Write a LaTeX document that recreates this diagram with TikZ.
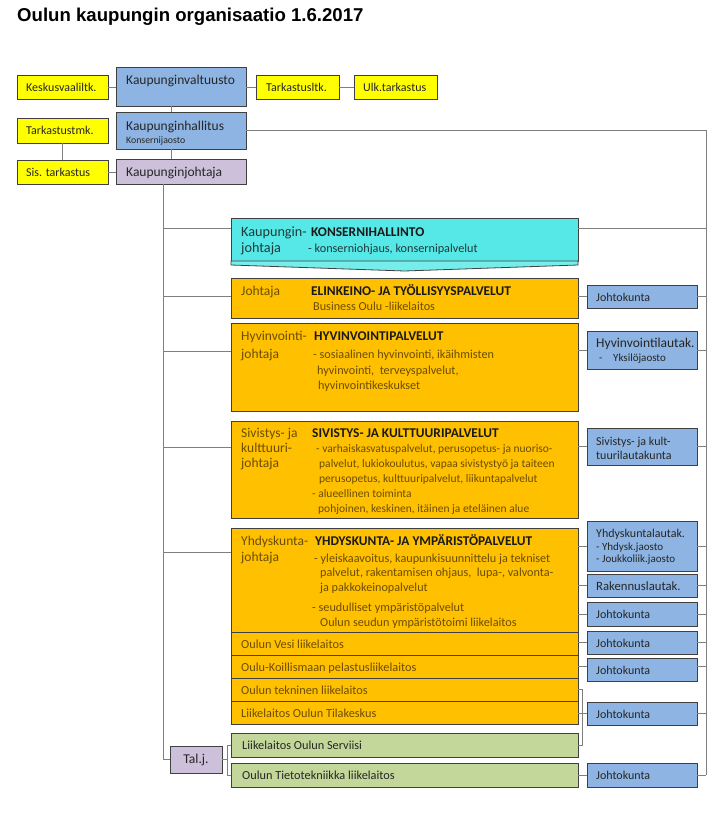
\documentclass[tikz,border=0pt]{standalone}
\usepackage{fontspec}
\setmainfont{Carlito}
\newfontfamily\titlefont{Liberation Sans}
\usetikzlibrary{shadows}
\definecolor{yel}{HTML}{FFFF00}
\definecolor{blu}{HTML}{8DB4E2}
\definecolor{pur}{HTML}{CCC0DA}
\definecolor{cya}{HTML}{55E8E6}
\definecolor{ora}{HTML}{FFC000}
\definecolor{grn}{HTML}{C4D79B}
\definecolor{edgec}{HTML}{404040}
\definecolor{connc}{HTML}{7F7F7F}
\definecolor{tbr}{HTML}{6B4D00}
\definecolor{thd}{HTML}{1A1A1A}
\definecolor{tcy}{HTML}{1E3A3A}
\definecolor{tdk}{HTML}{262626}
\newcommand\fbig{\fontsize{13.5}{15}\selectfont}
\newcommand\fmid{\fontsize{12}{14}\selectfont}
\newcommand\frow{\fontsize{12.3}{14}\selectfont}
\newcommand\flab{\fontsize{13.5}{15}\selectfont}
\newcommand\fbody{\fontsize{12.2}{14}\selectfont}
\newcommand\fbodys{\fontsize{11.5}{13}\selectfont}
\newcommand\fsmall{\fontsize{11}{12}\selectfont}
\newcommand\ftiny{\fontsize{9.8}{11}\selectfont}
\newcommand\fhead{\bfseries\fontsize{13.4}{15}\selectfont}
\newcounter{tn}
\newcommand\tx[4][]{\stepcounter{tn}\node[lbl,#1] (tx\arabic{tn}) at (#2,#3) {#4};}
\begin{document}
\begin{tikzpicture}[x=1pt,y=-1pt,
  bx/.style={draw=edgec, line width=0.8pt, anchor=north west, inner sep=0pt, outer sep=0pt,
    drop shadow={shadow xshift=1.3pt, shadow yshift=-1.3pt, opacity=0.35, fill=black}},
  cn/.style={draw=connc, line width=0.9pt},
  lbl/.style={anchor=west, inner sep=0pt, text height=11.5pt, text depth=2.5pt, font=\fmid, text=tdk}]
\fill[white] (0,0) rectangle (720,835);
\useasboundingbox (0,0) rectangle (720,835);

\node[anchor=base west, inner sep=0pt, font=\titlefont\bfseries\fontsize{18.6}{20}\selectfont] (title) at (17,21) {Oulun kaupungin organisaatio 1.6.2017};

% coordinates for connector lanes
\coordinate (cx) at (171,0);
\coordinate (lx) at (62,0);
\coordinate (sp) at (163,0);
\coordinate (rs) at (706,0);
\coordinate (bk) at (582,0);
\coordinate (tb) at (227,0);
\coordinate (yk) at (0,228);
\coordinate (ye) at (0,296);
\coordinate (yh) at (0,351);
\coordinate (ys) at (0,447);
\coordinate (yy) at (0,552);

% top boxes
\node[bx, fill=yel, minimum width=91pt, minimum height=24pt] (kesk) at (17,75) {};
\node[bx, fill=blu, minimum width=130pt, minimum height=39pt] (valt) at (116,67) {};
\node[bx, fill=yel, minimum width=83pt, minimum height=24pt] (tark) at (256,75) {};
\node[bx, fill=yel, minimum width=83pt, minimum height=24pt] (ulk) at (354,75) {};
\node[bx, fill=yel, minimum width=91pt, minimum height=25pt] (tmk) at (17,118) {};
\node[bx, fill=blu, minimum width=130pt, minimum height=37pt] (hall) at (116,112) {};
\node[bx, fill=yel, minimum width=91pt, minimum height=24pt] (sis) at (17,160) {};
\node[bx, fill=pur, minimum width=130pt, minimum height=25pt] (kjoh) at (116,159) {};

\tx{26}{87}{Keskusvaaliltk.}
\tx[font=\fbig]{126}{80}{Kaupunginvaltuusto}
\tx{266}{87}{Tarkastusltk.}
\tx{363}{87}{Ulk.tarkastus}
\tx{26}{130}{Tarkastustmk.}
\tx[font=\fbig]{126}{126}{Kaupunginhallitus}
\tx[font=\ftiny]{126}{139}{Konsernijaosto}
\tx{26}{172}{Sis. tarkastus}
\tx[font=\fbig]{126}{172}{Kaupunginjohtaja}

% middle column
\node[bx, fill=cya, minimum width=347pt, minimum height=43pt] (kons) at (231,218) {};
\draw[draw=edgec, line width=0.8pt, fill=cya!80!white] (kons.south west) -- ++(0,4) -- (404.5,271) -- (578,265) -- (kons.south east) -- cycle;
\node[bx, fill=ora, minimum width=347pt, minimum height=40pt] (elin) at (231,278) {};
\node[bx, fill=ora, minimum width=347pt, minimum height=88pt] (hyv) at (231,323) {};
\node[bx, fill=ora, minimum width=347pt, minimum height=97pt] (siv) at (231,421) {};
\node[bx, fill=ora, minimum width=347pt, minimum height=104pt] (yhd) at (231,528) {};
\node[bx, fill=ora, minimum width=347pt, minimum height=23pt] (vesi) at (231,632) {};
\node[bx, fill=ora, minimum width=347pt, minimum height=23pt] (koil) at (231,655) {};
\node[bx, fill=ora, minimum width=347pt, minimum height=23pt] (tekn) at (231,678) {};
\node[bx, fill=ora, minimum width=347pt, minimum height=23pt] (tila) at (231,701) {};
\node[bx, fill=grn, minimum width=347pt, minimum height=24pt] (serv) at (231,733) {};
\node[bx, fill=grn, minimum width=347pt, minimum height=24pt] (tieto) at (231,763) {};
\node[bx, fill=pur, minimum width=52pt, minimum height=27pt] (talj) at (170,746) {};
\node[inner sep=0pt, font=\fbig, text=tdk] (taljT) at (talj.center) {Tal.j.};

% konserni texts
\tx[font=\fontsize{14.2}{16}\selectfont, text=tcy]{241}{232}{Kaupungin-}
\tx[font=\fontsize{14.2}{16}\selectfont, text=tcy]{241}{248}{johtaja}
\tx[font=\fhead, text=thd]{311}{232}{KONSERNIHALLINTO}
\tx[font=\fbody, text=tcy]{308}{248}{- konserniohjaus, konsernipalvelut}
% elinkeino
\tx[font=\flab, text=tbr]{241}{291}{Johtaja}
\tx[font=\fhead, text=thd]{311}{291}{ELINKEINO- JA TYÖLLISYYSPALVELUT}
\tx[font=\fbody, text=tbr]{313}{306}{Business Oulu -liikelaitos}
% hyvinvointi
\tx[font=\flab, text=tbr]{241}{336}{Hyvinvointi-}
\tx[font=\flab, text=tbr]{241}{354}{johtaja}
\tx[font=\fhead, text=thd]{314}{336}{HYVINVOINTIPALVELUT}
\tx[font=\fbody, text=tbr]{313}{354}{- sosiaalinen hyvinvointi, ikäihmisten}
\tx[font=\fbody, text=tbr]{317}{370}{hyvinvointi,\ \ terveyspalvelut,}
\tx[font=\fbody, text=tbr]{318}{385}{hyvinvointikeskukset}
% sivistys
\tx[font=\flab, text=tbr]{241}{433}{Sivistys- ja}
\tx[font=\flab, text=tbr]{241}{448}{kulttuuri-}
\tx[font=\flab, text=tbr]{241}{463}{johtaja}
\tx[font=\fhead, text=thd]{312}{433}{SIVISTYS- JA KULTTUURIPALVELUT}
\tx[font=\fbodys, text=tbr]{316}{448}{- varhaiskasvatuspalvelut, perusopetus- ja nuoriso-}
\tx[font=\fbodys, text=tbr]{319}{463}{palvelut, lukiokoulutus, vapaa sivistystyö ja taiteen}
\tx[font=\fbodys, text=tbr]{319}{478}{perusopetus, kulttuuripalvelut, liikuntapalvelut}
\tx[font=\fbodys, text=tbr]{312}{493}{- alueellinen toiminta}
\tx[font=\fbodys, text=tbr]{318}{508}{pohjoinen, keskinen, itäinen ja eteläinen alue}
% yhdyskunta
\tx[font=\flab, text=tbr]{241}{541}{Yhdyskunta-}
\tx[font=\flab, text=tbr]{241}{557}{johtaja}
\tx[font=\fhead, text=thd]{315}{541}{YHDYSKUNTA- JA YMPÄRISTÖPALVELUT}
\tx[font=\fbody, text=tbr]{314}{558}{- yleiskaavoitus, kaupunkisuunnittelu ja tekniset}
\tx[font=\fbody, text=tbr]{320}{572}{palvelut, rakentamisen ohjaus,\ \ lupa-, valvonta-}
\tx[font=\fbody, text=tbr]{320}{587}{ja pakkokeinopalvelut}
\tx[font=\fbody, text=tbr]{312}{607}{- seudulliset ympäristöpalvelut}
\tx[font=\fbody, text=tbr]{320}{622}{Oulun seudun ympäristötoimi liikelaitos}
% rows
\tx[font=\frow, text=tbr]{241}{644}{Oulun Vesi liikelaitos}
\tx[font=\frow, text=tbr]{241}{667}{Oulu-Koillismaan pelastusliikelaitos}
\tx[font=\frow, text=tbr]{241}{690}{Oulun tekninen liikelaitos}
\tx[font=\frow, text=tbr]{241}{713}{Liikelaitos Oulun Tilakeskus}
\tx[font=\frow]{242}{745}{Liikelaitos Oulun Serviisi}
\tx[font=\frow]{242}{775}{Oulun Tietotekniikka liikelaitos}

% right boxes
\node[bx, fill=blu, minimum width=110pt, minimum height=23pt] (jk1) at (587,285) {};
\node[bx, fill=blu, minimum width=110pt, minimum height=38pt] (hyvl) at (587,331) {};
\node[bx, fill=blu, minimum width=110pt, minimum height=37pt] (sivl) at (587,428) {};
\node[bx, fill=blu, minimum width=110pt, minimum height=50pt] (yhdl) at (587,521) {};
\node[bx, fill=blu, minimum width=110pt, minimum height=23pt] (rakl) at (587,574) {};
\node[bx, fill=blu, minimum width=110pt, minimum height=24pt] (jk2) at (587,602) {};
\node[bx, fill=blu, minimum width=110pt, minimum height=23pt] (jk3) at (587,631) {};
\node[bx, fill=blu, minimum width=110pt, minimum height=23pt] (jk4) at (587,658) {};
\node[bx, fill=blu, minimum width=110pt, minimum height=23pt] (jk5) at (587,702) {};
\node[bx, fill=blu, minimum width=110pt, minimum height=24pt] (jk6) at (587,763) {};

\tx{596}{297}{Johtokunta}
\tx[font=\fbig]{596}{343}{Hyvinvointilautak.}
\tx[font=\fsmall]{599}{357}{-}
\tx[font=\fsmall]{613}{357}{Yksilöjaosto}
\tx{596}{441}{Sivistys- ja kult-}
\tx{596}{455}{tuurilautakunta}
\tx{596}{533}{Yhdyskuntalautak.}
\tx[font=\fsmall]{596}{546}{- Yhdysk.jaosto}
\tx[font=\fsmall]{596}{558}{- Joukkoliik.jaosto}
\tx[font=\fontsize{12.7}{14}\selectfont]{596}{586}{Rakennuslautak.}
\tx{596}{614}{Johtokunta}
\tx{596}{643}{Johtokunta}
\tx{596}{670}{Johtokunta}
\tx{596}{714}{Johtokunta}
\tx{596}{775}{Johtokunta}

% connectors: top
\draw[cn] (kesk.east) -- (kesk.east -| valt.west);
\draw[cn] (valt.east |- tark.west) -- (tark.west);
\draw[cn] (tark.east) -- (ulk.west);
\draw[cn] (valt.south -| cx) -- (hall.north -| cx);
\draw[cn] (hall.south -| cx) -- (kjoh.north -| cx);
\draw[cn] (tmk.south -| lx) -- (sis.north -| lx);
\draw[cn] (sis.east) -- (sis.east -| kjoh.west);
\draw[cn] (hall.east) -- (hall.east -| rs) -- (rs |- jk6.east);
% left spine
\draw[cn] (kjoh.south -| sp) -- (sp |- talj.west) -- (talj.west);
\draw[cn] (sp |- yk) -- (kons.west |- yk);
\draw[cn] (sp |- ye) -- (elin.west |- ye);
\draw[cn] (sp |- yh) -- (hyv.west |- yh);
\draw[cn] (sp |- ys) -- (siv.west |- ys);
\draw[cn] (sp |- yy) -- (yhd.west |- yy);
\draw[cn] (kons.east |- yk) -- (rs |- yk);
% Tal.j. bracket
\draw[cn] (talj.east) -- (talj.east -| tb);
\draw[cn] (tb |- serv.west) -- (tb |- tieto.west);
\draw[cn] (tb |- serv.west) -- (serv.west);
\draw[cn] (tb |- tieto.west) -- (tieto.west);
% right side stubs
\draw[cn] (elin.east |- jk1.west) -- (jk1.west);
\draw[cn] (hyv.east |- hyvl.west) -- (hyvl.west);
\draw[cn] (siv.east |- sivl.west) -- (sivl.west);
\draw[cn] (yhd.east |- yhdl.west) -- (yhdl.west);
\draw[cn] (yhd.east |- rakl.west) -- (rakl.west);
\draw[cn] (yhd.east |- jk2.west) -- (jk2.west);
\draw[cn] (vesi.east |- jk3.west) -- (jk3.west);
\draw[cn] (koil.east) -- (koil.east -| jk4.west);
\draw[cn] (tila.east |- jk5.west) -- (jk5.west);
\draw[cn] (tieto.east |- jk6.west) -- (jk6.west);
\draw[cn] (tekn.east) -- (tekn.east -| bk) -- (bk |- serv.east) -- (serv.east);
\foreach \n in {jk1,hyvl,sivl,yhdl,rakl,jk2,jk3,jk5,jk6}
  \draw[cn] (\n.east) -- (\n.east -| rs);
\draw[cn] (jk4.east |- koil.east) -- (rs |- koil.east);
\end{tikzpicture}
\end{document}
